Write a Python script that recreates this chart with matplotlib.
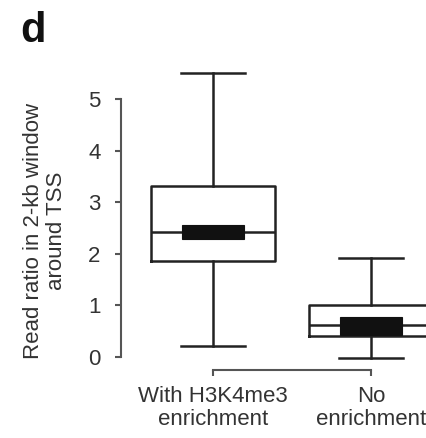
import matplotlib
matplotlib.use("Agg")
import matplotlib.pyplot as plt

plt.rcParams["font.family"] = ["Liberation Sans", "DejaVu Sans"]

# Summary statistics of the read ratio in a 2-kb window around the TSS
groups = ["With H3K4me3\nenrichment", "No\nenrichment"]
whisker_low = [0.21, -0.02]
q1 = [1.85, 0.41]
median = [2.42, 0.61]
q3 = [3.32, 1.00]
whisker_high = [5.51, 1.91]
# Confidence band around the median (filled black bar)
ci_low = [2.28, 0.42]
ci_high = [2.56, 0.78]

yticks = [0, 1, 2, 3, 4, 5]

W, H = 427, 438
fig = plt.figure(figsize=(W / 100, H / 100), dpi=100)

left_px, right_px, bottom_px, top_px = 120.7, 440.0, 370.0, 60.0
ax = fig.add_axes([left_px / W, (H - bottom_px) / H,
                   (right_px - left_px) / W, (bottom_px - top_px) / H])

line_col = "#222222"
stats = []
for i in range(len(groups)):
    stats.append(dict(whislo=whisker_low[i], q1=q1[i], med=median[i],
                      q3=q3[i], whishi=whisker_high[i], fliers=[]))

positions = list(range(1, len(groups) + 1))
lw = 1.8
ax.bxp(stats, positions=positions, widths=0.79, capwidths=0.41,
       showfliers=False, manage_ticks=False,
       boxprops=dict(color=line_col, linewidth=lw),
       whiskerprops=dict(color=line_col, linewidth=lw, linestyle="-"),
       capprops=dict(color=line_col, linewidth=lw),
       medianprops=dict(color=line_col, linewidth=lw))

heights = [h - l for h, l in zip(ci_high, ci_low)]
ax.bar(positions, heights, bottom=ci_low, width=0.39, color="#111111",
       edgecolor="#111111", linewidth=0.8, zorder=3)

ax.set_xlim(0.416, 2.437)
ax.set_ylim(-0.258, 5.761)

for s in ("top", "right"):
    ax.spines[s].set_visible(False)
ax.spines["left"].set_bounds(0, 5)
ax.spines["bottom"].set_bounds(1, 2)
for s in ("left", "bottom"):
    ax.spines[s].set_color("#555555")
    ax.spines[s].set_linewidth(1.5)

ax.set_yticks(yticks)
ax.set_yticklabels([str(t) for t in yticks])
ax.set_xticks(positions)
ax.set_xticklabels(groups, linespacing=1.1)
ax.tick_params(axis="both", direction="out", length=4.5, width=1.5,
               color="#555555", labelsize=16, labelcolor="#333333")
ax.tick_params(axis="y", pad=10)
ax.tick_params(axis="x", pad=7)

fig.text(45 / W, (H - 231) / H, "Read ratio in 2-kb window\naround TSS",
         rotation=90, ha="center", va="center", multialignment="center",
         fontsize=16, color="#333333", linespacing=1.1)

fig.text(20 / W, (H - 42) / H, "d", fontsize=30, fontweight="bold",
         ha="left", va="baseline", color="#111111")

fig.savefig("out.png", dpi=100)
